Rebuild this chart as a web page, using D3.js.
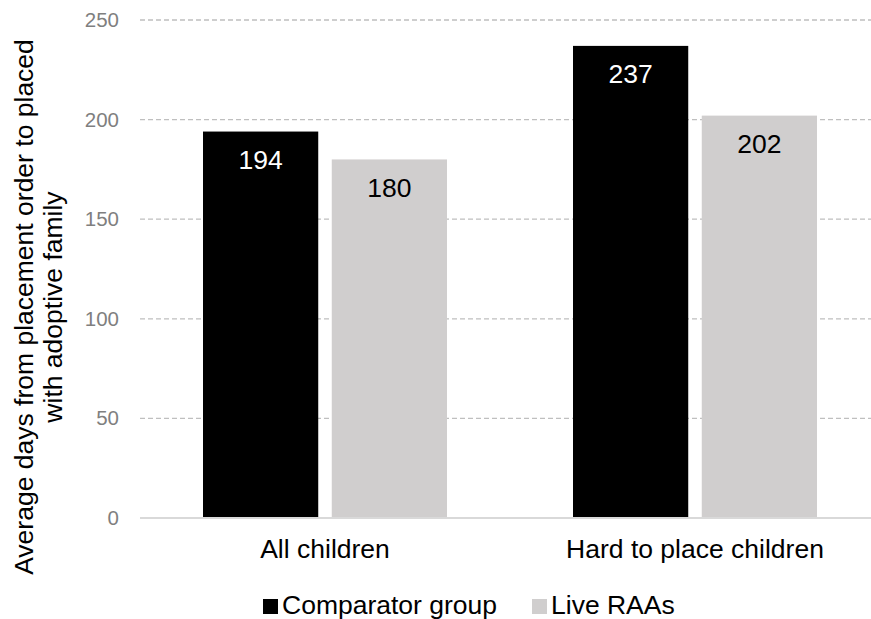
<!DOCTYPE html>
<html>
<head>
<meta charset="utf-8">
<script src="https://cdn.jsdelivr.net/npm/d3@7"></script>
<style>
  html, body { margin: 0; padding: 0; background: #fff; }
  svg { display: block; font-family: Arial, "Liberation Sans", sans-serif; }
</style>
</head>
<body>
<svg id="chart" width="871" height="619"></svg>
<script>
// Chart data
const categories = ["All children", "Hard to place children"];
const seriesNames = ["Comparator group", "Live RAAs"];
const comparatorValues = [194, 237];
const liveRaaValues = [180, 202];
const yTicks = [0, 50, 100, 150, 200, 250];
const yTitleLines = ["Average days from placement order to placed", "with adoptive family"];

const seriesValues = [comparatorValues, liveRaaValues];
const colors = ["#000000", "#d0cece"];
const labelColors = ["#ffffff", "#000000"];

const svg = d3.select("#chart");

const plot = { left: 140, right: 880, top: 20, bottom: 518 };

const x0 = d3.scaleBand().domain(categories).range([plot.left, plot.right]).padding(0);
const groupWidth = 244;
const x1 = d3.scaleBand()
  .domain(seriesNames)
  .range([(x0.bandwidth() - groupWidth) / 2, (x0.bandwidth() + groupWidth) / 2])
  .paddingInner(0.105)
  .paddingOuter(0);
const y = d3.scaleLinear().domain([0, 250]).range([plot.bottom, plot.top]);

// Gridlines
svg.append("g")
  .selectAll("line")
  .data(yTicks.filter(d => d > 0))
  .join("line")
  .attr("x1", plot.left).attr("x2", plot.right)
  .attr("y1", d => y(d)).attr("y2", d => y(d))
  .attr("stroke", "#bfbfbf")
  .attr("stroke-width", 1.3)
  .attr("stroke-dasharray", "5,3");

// Y axis (labels only)
const yAxis = d3.axisLeft(y).tickValues(yTicks).tickSize(0).tickPadding(0);
const yg = svg.append("g").attr("transform", `translate(119,0)`).call(yAxis);
yg.select(".domain").remove();
yg.selectAll("text")
  .attr("fill", "#7f7f7f")
  .attr("font-size", "20.5px")
  .attr("font-family", "Arial, 'Liberation Sans', sans-serif");

// Bars
const rows = categories.map((c, i) => ({
  category: c,
  values: seriesNames.map((s, j) => ({ series: s, idx: j, value: seriesValues[j][i] }))
}));

const groups = svg.append("g")
  .selectAll("g")
  .data(rows)
  .join("g")
  .attr("transform", d => `translate(${x0(d.category)},0)`);

groups.selectAll("rect")
  .data(d => d.values)
  .join("rect")
  .attr("x", d => x1(d.series))
  .attr("width", x1.bandwidth())
  .attr("y", d => y(d.value))
  .attr("height", d => y(0) - y(d.value))
  .attr("fill", d => colors[d.idx]);

groups.selectAll("text")
  .data(d => d.values)
  .join("text")
  .attr("x", d => x1(d.series) + x1.bandwidth() / 2)
  .attr("y", d => y(d.value) + 37.5)
  .attr("text-anchor", "middle")
  .attr("font-size", "26.5px")
  .attr("fill", d => labelColors[d.idx])
  .text(d => d.value);

// Baseline
svg.append("line")
  .attr("x1", plot.left).attr("x2", plot.right)
  .attr("y1", y(0)).attr("y2", y(0))
  .attr("stroke", "#d9d9d9")
  .attr("stroke-width", 2);

// Category labels
const xAxis = d3.axisBottom(x0).tickSize(0).tickPadding(0);
const xg = svg.append("g").attr("transform", `translate(0,${y(0)})`).call(xAxis);
xg.select(".domain").remove();
xg.selectAll("text")
  .attr("y", 40)
  .attr("dy", 0)
  .attr("fill", "#000")
  .attr("font-size", "26.5px")
  .attr("font-family", "Arial, 'Liberation Sans', sans-serif");

// Y axis title
const title = svg.append("text")
  .attr("transform", "translate(0,307) rotate(-90)")
  .attr("text-anchor", "middle")
  .attr("font-size", "26.5px")
  .attr("fill", "#000");
yTitleLines.forEach((line, i) => {
  title.append("tspan").attr("x", 0).attr("y", 33 + i * 29).text(line);
});

// Legend
const legend = svg.append("g");
const legendStarts = [263, 532];
seriesNames.forEach((name, i) => {
  const g = legend.append("g").attr("transform", `translate(${legendStarts[i]},0)`);
  g.append("rect").attr("x", 0).attr("y", 599).attr("width", 15).attr("height", 15).attr("fill", colors[i]);
  g.append("text").attr("x", 19).attr("y", 614).attr("font-size", "26.5px").attr("fill", "#000").text(name);
});
</script>
</body>
</html>
